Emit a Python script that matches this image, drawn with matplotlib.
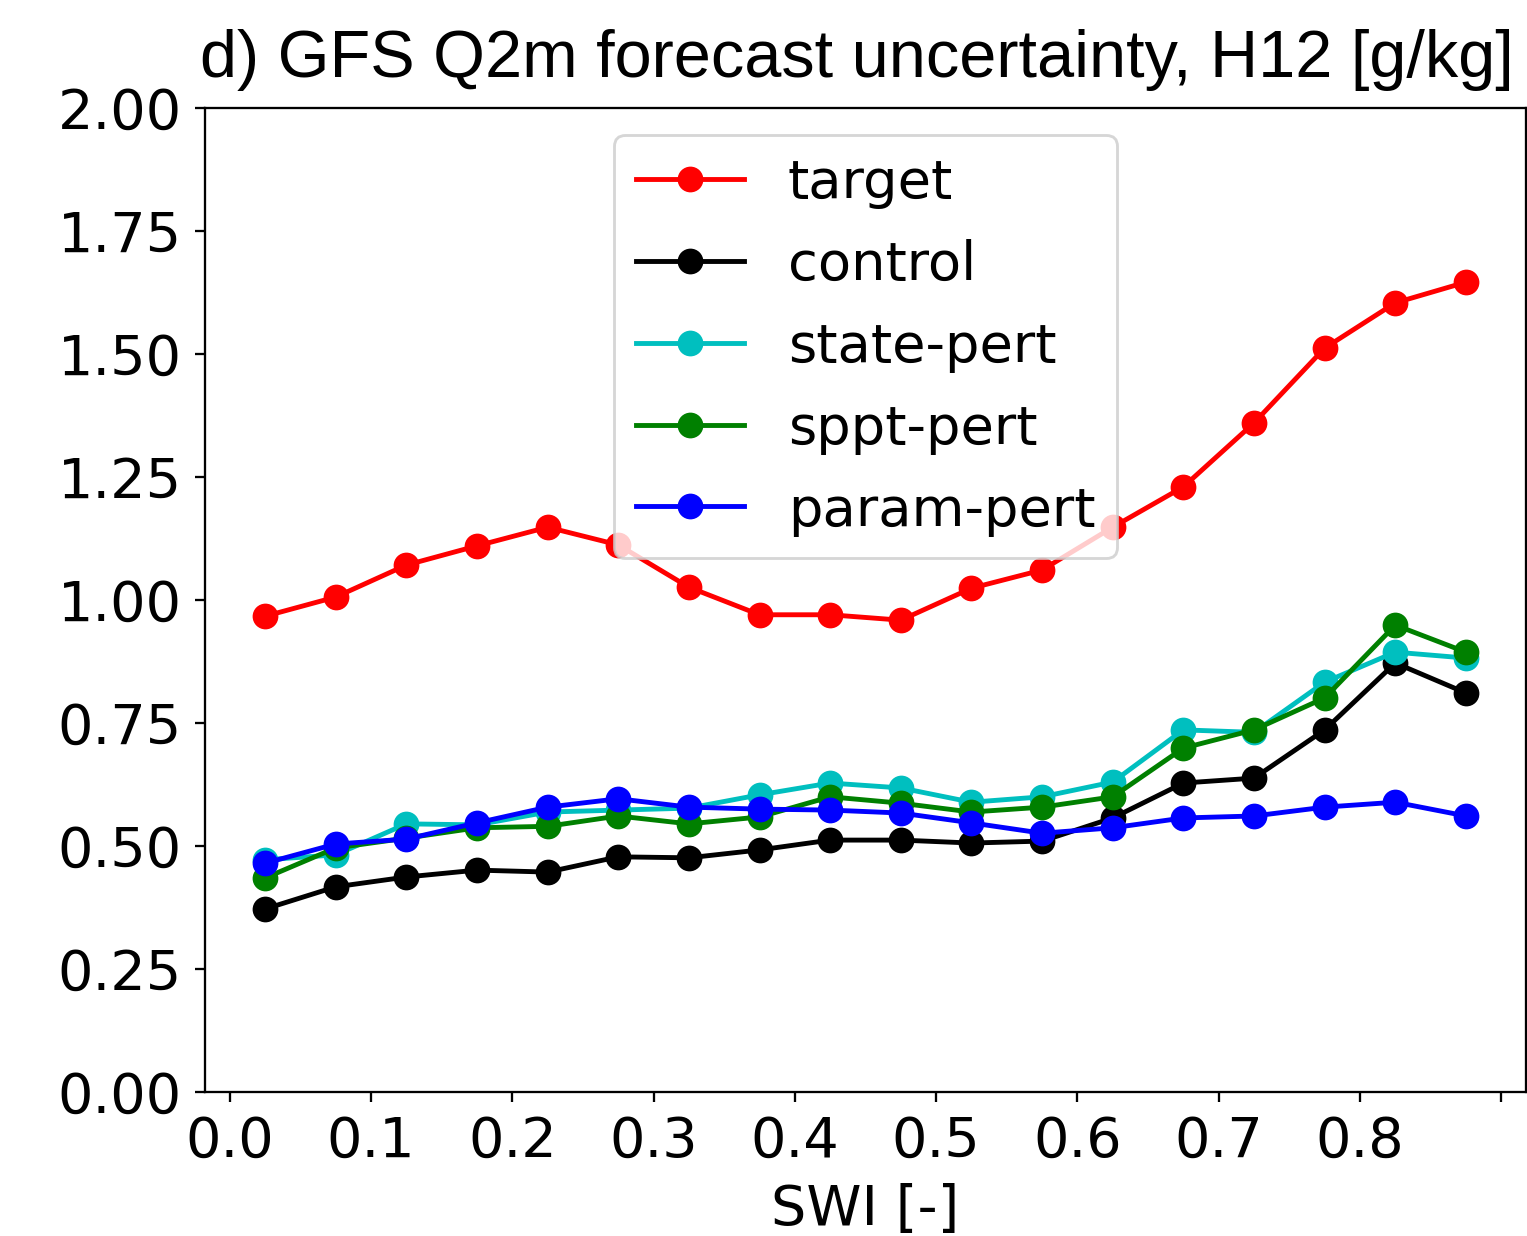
import matplotlib
matplotlib.use("Agg")
import matplotlib.pyplot as plt
import numpy as np

# soil wetness index bins (bin centres)
swi = [0.025, 0.075, 0.125, 0.175, 0.225, 0.275, 0.325, 0.375, 0.425,
       0.475, 0.525, 0.575, 0.625, 0.675, 0.725, 0.775, 0.825, 0.875]

target = [0.967, 1.006, 1.071, 1.110, 1.148, 1.112, 1.026, 0.970, 0.970,
          0.959, 1.024, 1.061, 1.148, 1.230, 1.360, 1.512, 1.604, 1.646]
control = [0.372, 0.417, 0.437, 0.451, 0.447, 0.478, 0.476, 0.492, 0.512,
           0.512, 0.506, 0.510, 0.557, 0.628, 0.638, 0.736, 0.872, 0.811]
state_pert = [0.472, 0.482, 0.545, 0.543, 0.569, 0.573, 0.577, 0.604, 0.628,
              0.618, 0.589, 0.600, 0.630, 0.736, 0.731, 0.833, 0.894, 0.882]
sppt_pert = [0.435, 0.496, 0.516, 0.537, 0.540, 0.561, 0.545, 0.559, 0.600,
             0.587, 0.569, 0.579, 0.600, 0.699, 0.736, 0.801, 0.949, 0.894]
param_pert = [0.465, 0.504, 0.514, 0.547, 0.579, 0.596, 0.579, 0.575, 0.573,
              0.567, 0.547, 0.526, 0.537, 0.557, 0.561, 0.579, 0.589, 0.561]

series = [
    ('target', target, 'r'),
    ('control', control, 'k'),
    ('state-pert', state_pert, 'c'),
    ('sppt-pert', sppt_pert, 'g'),
    ('param-pert', param_pert, 'b'),
]

plt.rcParams['font.size'] = 19.5

fig = plt.figure(figsize=(1527 / 206, 1236 / 206), dpi=206)
ax = fig.add_axes([205 / 1527, 1 - 1092 / 1236, 1321 / 1527, 984 / 1236])

for name, vals, col in series:
    ax.plot(swi, vals, '-o', color=col, label=name, markersize=8, linewidth=1.7)

ax.set_ylim(0, 2)
ax.set_yticks(np.arange(0, 2.01, 0.25))
ax.set_yticklabels(['%.2f' % v for v in np.arange(0, 2.01, 0.25)])
ax.set_xticks(np.arange(0, 0.91, 0.1))
ax.set_xticklabels(['%.1f' % v for v in np.arange(0, 0.81, 0.1)] + [''])
ax.tick_params(axis='both', pad=4.5)
ax.set_xlabel('SWI [-]', labelpad=5)
ax.legend(loc='upper center', fontsize=19, labelspacing=0.55)

fig.text(200 / 1527, 1 - 77 / 1236, 'd) GFS Q2m forecast uncertainty, H12 [g/kg]',
         fontfamily='Liberation Sans', fontsize=23.3, va='baseline', ha='left')

fig.savefig('out.png', dpi=206)
